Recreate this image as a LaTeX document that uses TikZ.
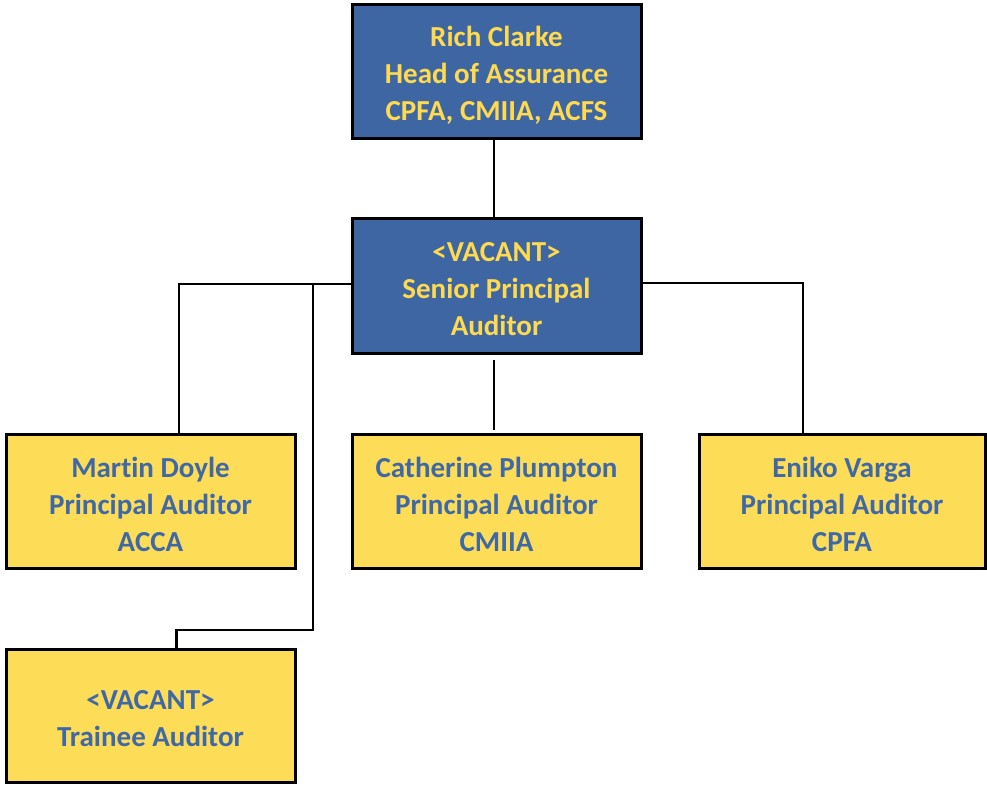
\documentclass[tikz,border=0pt]{standalone}
\usepackage{fontspec}
\setmainfont[Ligatures=NoCommon]{Carlito}
\definecolor{boxblue}{HTML}{3D66A2}
\definecolor{boxyellow}{HTML}{FDDC57}
\definecolor{txtyellow}{HTML}{FFDA4E}
\definecolor{txtblue}{HTML}{3F68A6}
\tikzset{
  base/.style={draw=black, line width=3pt, minimum height=134pt, inner sep=0pt},
  bluebox/.style={base, fill=boxblue, minimum width=289pt},
  yelbox/.style={base, fill=boxyellow, minimum width=289pt},
  lbl/.style={align=center, font=\fontsize{29}{37}\selectfont\bfseries, inner sep=0pt},
  ylbl/.style={lbl, text=txtyellow},
  blbl/.style={lbl, text=txtblue},
  conn/.style={draw=black, line width=2.8pt}
}
\begin{document}
\begin{tikzpicture}[x=1pt,y=-1pt]
\useasboundingbox (0,0) rectangle (987,786);
\node[bluebox] (top) at (496.5,72) {};
\node[ylbl] (toptext) at ([yshift=-3pt]top.center) {Rich Clarke\\Head of Assurance\\CPFA, CMIIA, ACFS};
\node[bluebox] (mid) at (496.5,286) {};
\node[ylbl] (midtext) at ([yshift=-3pt]mid.center) {<VACANT>\\Senior Principal\\Auditor};
\node[yelbox] (martin) at (150.5,501) {};
\node[blbl] (martintext) at ([yshift=-3pt]martin.center) {Martin Doyle\\Principal Auditor\\ACCA};
\node[yelbox] (cath) at (496.5,501) {};
\node[blbl] (cathtext) at ([yshift=-3pt]cath.center) {Catherine Plumpton\\Principal Auditor\\CMIIA};
\node[yelbox, minimum width=286pt] (eniko) at (842,501) {};
\node[blbl] (enikotext) at ([yshift=-3pt]eniko.center) {Eniko Varga\\Principal Auditor\\CPFA};
\node[yelbox, minimum height=133pt] (trainee) at (150.5,715.5) {};
\node[blbl] (traineetext) at ([yshift=-3.5pt]trainee.center) {<VACANT>\\Trainee Auditor};
\coordinate (j) at (313,284);
\coordinate (k) at (313,630);
\draw[conn] (top.south -| 494,0) -- (mid.north -| 494,0);
\draw[conn] (mid.west |- j) -| ([xshift=28.5pt]martin.north);
\draw[conn] (j) -- (k) -| ([xshift=26pt]trainee.north);
\draw[conn] (mid.east |- 0,283) -| ([xshift=-39pt]eniko.north);
\draw[conn] ([yshift=-5pt]mid.south -| 494,0) -- ([yshift=3pt]cath.north -| 494,0);
\end{tikzpicture}
\end{document}
